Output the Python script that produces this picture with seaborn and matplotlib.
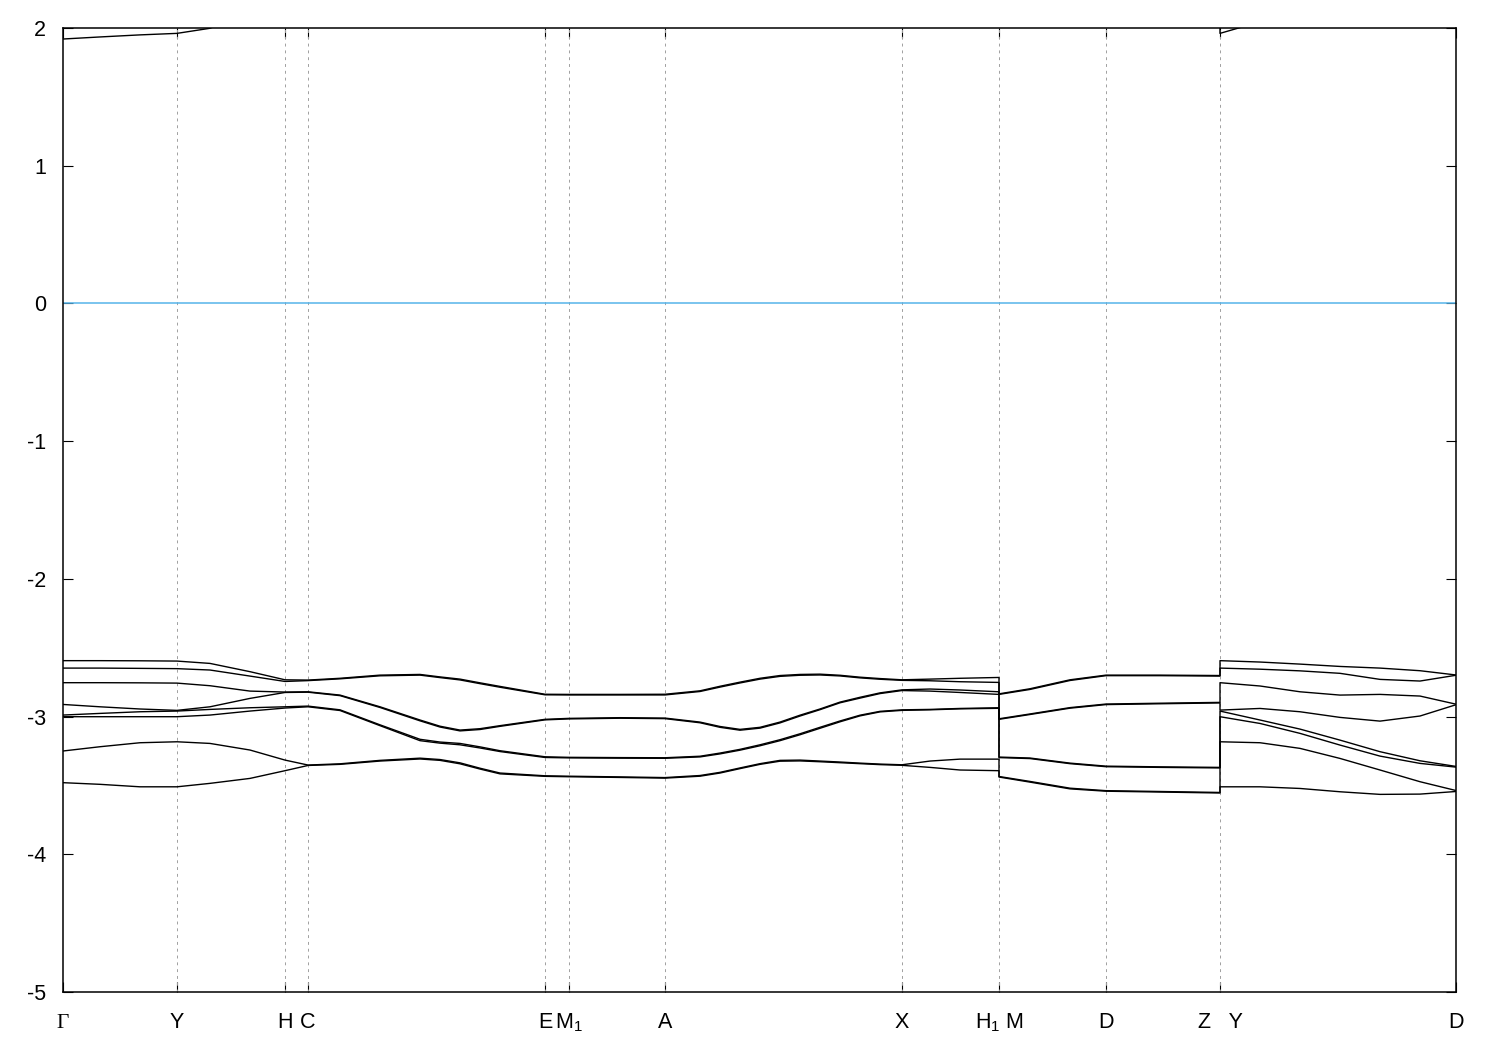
import numpy as np
import pandas as pd
import seaborn as sns
import matplotlib
matplotlib.use('Agg')
import matplotlib.pyplot as plt

# k-path distance (H1|M and Z|Y are repeated for the jumps)
k = [0.000, 0.037, 0.077, 0.114, 0.147, 0.187, 0.222, 0.245, 0.277, 0.317,
     0.357, 0.377, 0.397, 0.417, 0.437, 0.482, 0.506, 0.557, 0.602,
     0.637, 0.657, 0.677, 0.697, 0.717, 0.737, 0.757, 0.777, 0.797, 0.817, 0.839,
     0.867, 0.897, 0.936, 0.936, 0.967, 1.007, 1.043,
     1.097, 1.157, 1.157, 1.197, 1.237, 1.277, 1.317, 1.357, 1.393]

band_1 = [-2.594, -2.594, -2.595, -2.597, -2.614, -2.674, -2.733, -2.735, -2.722, -2.699,
          -2.694, -2.712, -2.728, -2.755, -2.781, -2.838, -2.839, -2.839, -2.838,
          -2.813, -2.780, -2.750, -2.722, -2.702, -2.694, -2.692, -2.700, -2.714, -2.724, -2.733,
          -2.728, -2.722, -2.716, -2.835, -2.798, -2.733, -2.699,
          -2.699, -2.702, -2.594, -2.604, -2.619, -2.636, -2.648, -2.667, -2.698]
band_2 = [-2.648, -2.648, -2.650, -2.652, -2.662, -2.706, -2.745, -2.739, -2.726, -2.704,
          -2.699, -2.717, -2.734, -2.761, -2.787, -2.842, -2.843, -2.843, -2.843,
          -2.818, -2.786, -2.756, -2.728, -2.708, -2.700, -2.698, -2.705, -2.719, -2.729, -2.737,
          -2.740, -2.747, -2.752, -2.839, -2.803, -2.738, -2.703,
          -2.703, -2.706, -2.648, -2.656, -2.668, -2.686, -2.730, -2.742, -2.700]
band_3 = [-2.754, -2.754, -2.755, -2.757, -2.776, -2.815, -2.822, -2.820, -2.844, -2.929,
          -3.025, -3.070, -3.098, -3.088, -3.066, -3.020, -3.013, -3.008, -3.011,
          -3.040, -3.072, -3.093, -3.078, -3.040, -2.990, -2.945, -2.895, -2.860, -2.828, -2.806,
          -2.800, -2.807, -2.820, -3.016, -2.981, -2.935, -2.909,
          -2.903, -2.897, -2.754, -2.778, -2.820, -2.844, -2.839, -2.851, -2.910]
band_4 = [-2.912, -2.929, -2.945, -2.955, -2.929, -2.868, -2.825, -2.823, -2.848, -2.934,
          -3.031, -3.076, -3.104, -3.094, -3.071, -3.024, -3.017, -3.012, -3.015,
          -3.045, -3.078, -3.099, -3.084, -3.046, -2.996, -2.950, -2.900, -2.866, -2.833, -2.811,
          -2.815, -2.825, -2.839, -3.020, -2.985, -2.939, -2.913,
          -2.907, -2.901, -2.953, -2.941, -2.965, -3.006, -3.033, -2.996, -2.914]
band_5 = [-2.989, -2.977, -2.965, -2.960, -2.948, -2.936, -2.929, -2.924, -2.951, -3.060,
          -3.165, -3.185, -3.195, -3.220, -3.248, -3.292, -3.296, -3.298, -3.299,
          -3.288, -3.265, -3.238, -3.205, -3.168, -3.125, -3.078, -3.032, -2.990, -2.962, -2.951,
          -2.948, -2.941, -2.936, -3.294, -3.301, -3.338, -3.360,
          -3.365, -3.369, -2.960, -3.025, -3.091, -3.171, -3.255, -3.321, -3.362]
band_6 = [-3.001, -3.001, -3.001, -3.001, -2.989, -2.960, -2.938, -2.929, -2.956, -3.066,
          -3.175, -3.193, -3.205, -3.228, -3.254, -3.297, -3.300, -3.302, -3.303,
          -3.293, -3.271, -3.244, -3.212, -3.175, -3.132, -3.085, -3.038, -2.995, -2.966, -2.955,
          -2.951, -2.944, -2.940, -3.298, -3.305, -3.342, -3.364,
          -3.369, -3.373, -3.001, -3.050, -3.122, -3.207, -3.287, -3.340, -3.367]
band_7 = [-3.250, -3.219, -3.190, -3.183, -3.195, -3.243, -3.316, -3.352, -3.343, -3.318,
          -3.302, -3.312, -3.336, -3.375, -3.410, -3.430, -3.433, -3.438, -3.443,
          -3.428, -3.405, -3.373, -3.342, -3.318, -3.316, -3.323, -3.330, -3.338, -3.345, -3.350,
          -3.323, -3.309, -3.309, -3.435, -3.471, -3.520, -3.538,
          -3.544, -3.551, -3.183, -3.190, -3.231, -3.304, -3.388, -3.473, -3.537]
band_8 = [-3.480, -3.492, -3.510, -3.510, -3.485, -3.449, -3.393, -3.355, -3.347, -3.323,
          -3.308, -3.318, -3.343, -3.381, -3.416, -3.434, -3.437, -3.442, -3.447,
          -3.433, -3.410, -3.378, -3.347, -3.324, -3.322, -3.328, -3.335, -3.342, -3.349, -3.354,
          -3.369, -3.388, -3.393, -3.439, -3.476, -3.525, -3.542,
          -3.548, -3.555, -3.510, -3.510, -3.522, -3.546, -3.565, -3.563, -3.544]
cond_1 = [1.920, 1.935, 1.950, 1.961, 1.998, 2.120, 2.250, 2.300, 2.350, 2.400,
          2.450, 2.470, 2.480, 2.490, 2.500, 2.500, 2.500, 2.500, 2.500,
          2.480, 2.465, 2.450, 2.435, 2.420, 2.410, 2.400, 2.390, 2.380, 2.365, 2.350,
          2.350, 2.350, 2.350, 2.400, 2.420, 2.440, 2.450,
          2.450, 2.450, 1.961, 2.045, 2.150, 2.250, 2.300, 2.350, 2.400]

tick_pos = [0.0, 0.114, 0.222, 0.245, 0.482, 0.506, 0.602, 0.839, 0.936, 1.043, 1.157, 1.393]
tick_lbl = ['\u0393', 'Y', 'H', 'C', 'E', 'M$_1$', 'A', 'X', 'H$_1$ M', 'D', 'Z   Y', 'D']

sns.set_style('ticks')
plt.rcParams['font.family'] = ['Liberation Sans', 'DejaVu Sans']
plt.rcParams['mathtext.fontset'] = 'custom'
plt.rcParams['mathtext.rm'] = 'Liberation Sans'
plt.rcParams['mathtext.it'] = 'Liberation Sans:italic'
plt.rcParams['axes.unicode_minus'] = False

bands = [band_1, band_2, band_3, band_4, band_5, band_6, band_7, band_8, cond_1]
rows = []
for i, b in enumerate(bands):
    for j in range(len(k)):
        rows.append((i, j, k[j], b[j]))
df = pd.DataFrame(rows, columns=['band', 'step', 'k', 'E'])

fig = plt.figure(figsize=(15, 10.5), dpi=100)
ax = fig.add_axes([63/1500, 58/1050, (1456-63)/1500, (992-28)/1050])

for t in tick_pos[1:-1]:
    ax.axvline(t, color='#a0a0a0', lw=0.7, ls=(0, (3, 4)), zorder=1)
ax.axhline(0, color='#56b4e9', lw=1.1, zorder=2)

sns.lineplot(data=df, x='k', y='E', units='band', estimator=None, sort=False,
             color='black', lw=1.0, ax=ax, zorder=3)

ax.set_xlim(tick_pos[0], tick_pos[-1])
ax.set_ylim(-5, 2)
ax.set_yticks(range(-5, 3))
ax.set_xticks(tick_pos)
ax.set_xticklabels(tick_lbl)
ax.set_xlabel('')
ax.set_ylabel('')
ax.tick_params(direction='in', length=7, width=0.8, top=True, right=True,
               labelsize=15.5, colors='black')
ax.tick_params(axis='y', pad=12)
ax.tick_params(axis='x', pad=26)
for lbl in ax.get_xticklabels():
    lbl.set_verticalalignment('baseline')
    if lbl.get_text() == '\u0393':
        lbl.set_fontfamily('Liberation Serif')
for sp in ax.spines.values():
    sp.set_linewidth(1.1)
    sp.set_color('black')

fig.savefig('out.png', dpi=100)
